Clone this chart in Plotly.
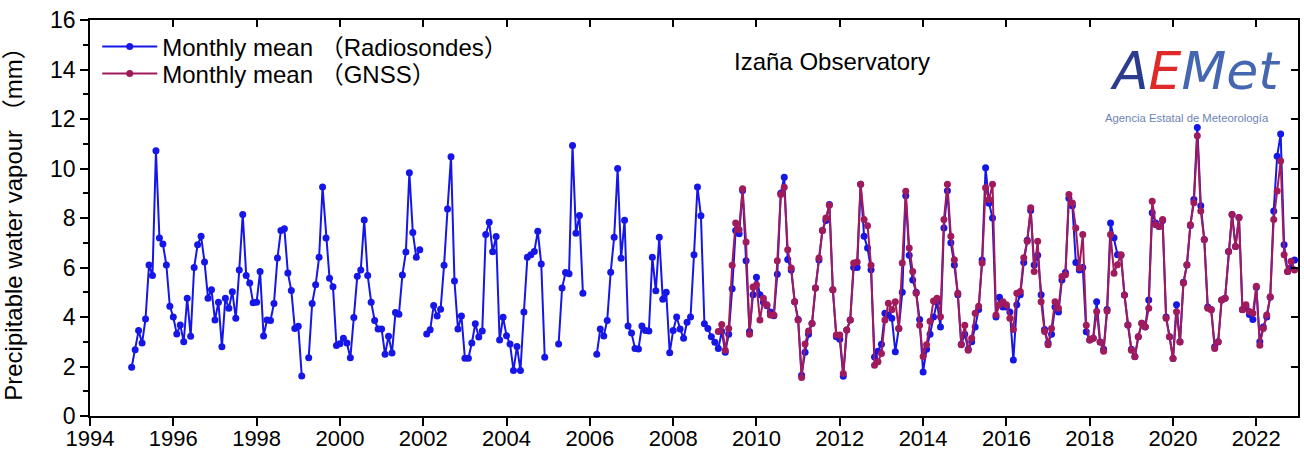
import plotly.graph_objects as go

# ---------------- data (monthly means, mm) ----------------
rs_start_year = 1995  # radiosondes, first value = Jan 1995
radiosondes = [
    1.97, 2.68, 3.45, 2.95, 3.92, 6.10, 5.68, 10.72, 7.19, 6.95, 6.10, 4.43,   # 1995
    4.00, 3.31, 3.68, 3.00, 4.76, 3.22, 6.00, 6.92, 7.26, 6.22, 4.76, 5.10,    # 1996
    3.88, 4.60, 2.80, 4.76, 4.35, 5.02, 3.95, 5.90, 8.14, 5.68, 5.37, 4.58,    # 1997
    4.60, 5.84, 3.23, 3.88, 3.86, 4.55, 6.38, 7.50, 7.57, 5.78, 5.07, 3.54,    # 1998
    3.63, 1.62, None, 2.35, 4.55, 5.30, 6.41, 9.25, 7.19, 5.57, 5.22, 2.85,    # 1999
    2.92, 3.14, 2.95, 2.35, 3.98, 5.65, 5.90, 7.92, 5.68, 4.60, 3.86, 3.52,    # 2000
    3.52, 2.49, 3.22, 2.55, 4.18, 4.11, 5.70, 6.63, 9.83, 7.41, 6.41, 6.72,    # 2001
    None, 3.31, 3.48, 4.46, 4.04, 4.31, 6.09, 8.36, 10.47, 5.45, 3.52, 4.04,   # 2002
    2.33, 2.33, 2.95, 3.73, 3.19, 3.43, 7.33, 7.83, 6.64, 7.25, 3.07, 3.99,    # 2003
    3.24, 2.91, 1.84, 2.81, 1.84, 4.20, 6.41, 6.52, 6.65, 7.46, 6.14, 2.37,    # 2004
    None, None, None, 2.91, 5.17, 5.80, 5.75, 10.93, 7.38, 8.10, 4.96, None,   # 2005
    None, None, 2.49, 3.52, 3.23, 3.86, 5.81, 7.22, 10.00, 6.37, 7.91, 3.64,   # 2006
    3.35, 2.73, 2.71, 3.64, 3.45, 3.43, 6.41, 5.06, 7.22, 4.72, 5.00, 2.56,    # 2007
    3.45, 4.00, 3.52, 3.14, 3.79, 4.00, 6.52, 9.25, 8.09, 3.73, 3.54, 3.20,    # 2008
    2.98, 2.73, 3.41, 2.58, 3.30, 5.14, 7.49, 7.36, 9.11, 6.27, 3.41, 4.90,    # 2009
    5.61, 4.90, 4.60, 4.45, 4.20, 4.05, 5.73, 9.00, 9.65, 6.32, 5.90, 4.62,    # 2010
    3.90, 1.65, 2.58, 3.30, 3.74, 5.17, 6.30, 7.50, 7.90, 8.55, 5.10, 3.20,    # 2011
    3.10, 1.61, 3.47, 3.88, 6.00, 6.00, 9.36, 7.26, 6.79, 5.91, 2.38, 2.62,    # 2012
    2.90, 4.15, 4.08, 3.95, 2.60, 3.54, 5.00, 8.90, 6.50, 5.50, 5.00, 3.90,    # 2013
    1.78, 2.70, 3.30, 4.00, 4.60, 3.60, 7.60, 9.10, 7.00, 6.10, 4.90, 2.90,    # 2014
    3.30, 2.70, 3.00, 3.60, 4.30, 6.30, 10.03, 8.60, 8.00, 4.00, 4.80, 4.40,   # 2015
    4.40, 4.20, 2.26, 4.50, 4.90, 6.20, 7.10, 8.30, 6.10, 6.50, 4.90, 3.50,    # 2016
    2.95, 3.30, 4.40, 4.20, 5.50, 5.80, 8.80, 8.50, 6.20, 5.90, 6.00, 3.40,    # 2017
    3.07, 3.14, 4.62, 2.99, 2.70, 4.30, 7.80, 7.20, 6.52, 6.50, 4.89, 3.68,    # 2018
    2.70, 2.40, 3.20, 3.75, 3.60, 4.69, 8.21, 7.80, 7.66, 7.90, 4.00, 3.20,    # 2019
    2.32, 4.50, 3.00, 5.40, 6.10, 7.70, 8.75, 11.66, 8.50, 7.13, 4.40, 4.30,   # 2020
    2.80, 3.00, 4.69, 4.76, 6.65, 8.14, 6.85, 8.02, 4.30, 4.40, 4.10, 3.90,    # 2021
    5.20, 3.00, 3.60, 4.00, 4.80, 8.28, 10.50, 11.39, 6.92, 5.84, 6.00, 6.30,  # 2022
]

gnss_start_year = 2009  # GNSS, first value = Jan 2009
gnss = [
    None, 3.41, 3.70, 2.66, 3.54, 6.09, 7.80, 7.53, 9.18, 7.03, 3.30, 5.21,   # 2009
    5.30, 3.88, 4.76, 4.49, 4.08, 4.08, 6.27, 8.95, 9.24, 6.72, 5.98, 4.62,   # 2010
    3.88, 1.56, 2.91, 3.43, 3.74, 5.17, 6.38, 7.49, 8.00, 8.52, 5.10, 3.27,   # 2011
    3.27, 1.72, 3.47, 3.88, 6.18, 6.22, 9.36, 7.94, 7.69, 6.09, 2.05, 2.19,   # 2012
    2.53, 3.88, 4.56, 4.29, 4.62, 3.54, 6.18, 9.08, 6.79, 5.84, 4.96, 3.67,   # 2013
    2.40, 2.88, 3.83, 4.65, 4.76, 4.01, 7.94, 9.36, 7.26, 6.31, 4.96, 2.88,   # 2014
    3.67, 2.66, 3.14, 4.15, 4.43, 6.18, 9.22, 8.75, 9.36, 4.08, 4.49, 4.62,   # 2015
    4.49, 3.95, 3.50, 4.96, 5.03, 6.39, 7.06, 8.41, 5.84, 7.06, 4.62, 3.41,   # 2016
    2.88, 3.54, 4.62, 4.35, 5.64, 5.71, 8.95, 8.61, 7.60, 5.98, 7.33, 3.67,   # 2017
    3.07, 3.14, 4.22, 2.99, 2.62, 4.24, 7.33, 5.77, 6.11, 6.52, 4.89, 3.68,   # 2018
    2.66, 2.39, 3.20, 3.75, 3.61, 4.35, 8.68, 7.73, 7.66, 7.94, 3.95, 3.20,   # 2019
    2.32, 4.21, 2.99, 5.37, 6.11, 7.73, 8.62, 11.32, 8.28, 7.13, 4.35, 4.29,  # 2020
    2.73, 2.99, 4.69, 4.76, 6.65, 8.14, 6.85, 8.02, 4.29, 4.49, 4.22, 4.15,   # 2021
    5.24, 2.86, 3.54, 4.08, 4.82, 7.94, 9.09, 10.30, 6.52, 5.84, 6.25, 5.90,  # 2022
]

x_ticks = list(range(1994, 2023, 2))
y_ticks = list(range(0, 17, 2))
x_range = [1994, 2023]
y_range = [0, 16]

label_rs = "Monthly mean （Radiosondes）"
label_gnss = "Monthly mean （GNSS）"
y_title = "Precipitable water vapour （mm）"
station = "Izaña Observatory"
logo_sub = "Agencia Estatal de Meteorología"

# ---------------- styling ----------------
BLUE = "#1616E8"
PURPLE = "#A01A5C"
FONT = "Liberation Sans, Arial, Noto Sans CJK SC, sans-serif"
NARROW = "Liberation Sans Narrow, Arial Narrow, Liberation Sans, sans-serif"


def month_positions(start, n):
    return [start + i / 12 for i in range(n)]


fig = go.Figure()
fig.add_trace(go.Scatter(
    x=month_positions(rs_start_year, len(radiosondes)), y=radiosondes,
    mode="lines+markers", name=label_rs, legend="legend",
    line=dict(color=BLUE, width=2), marker=dict(color=BLUE, size=7),
    xaxis="x", yaxis="y",
))
fig.add_trace(go.Scatter(
    x=month_positions(gnss_start_year, len(gnss)), y=gnss,
    mode="lines+markers", name=label_gnss, legend="legend2",
    line=dict(color=PURPLE, width=2), marker=dict(color=PURPLE, size=7),
    xaxis="x2", yaxis="y2",
))

axis_common = dict(showgrid=False, zeroline=False, showline=True,
                   linecolor="black", linewidth=1.6, tickcolor="black",
                   tickwidth=1.5, automargin=False)

legend_common = dict(xanchor="left", yanchor="middle", bgcolor="rgba(0,0,0,0)",
                     font=dict(size=24, family=FONT, color="black"),
                     itemwidth=55)

fig.update_layout(
    width=1304, height=450,
    margin=dict(l=90, r=6, t=20, b=34),
    paper_bgcolor="white", plot_bgcolor="white",
    font=dict(family=FONT, color="black"),
    showlegend=True,
    legend=dict(x=0.006, y=0.932, **legend_common),
    legend2=dict(x=0.006, y=0.864, **legend_common),
    xaxis=dict(range=x_range, tickmode="array", tickvals=x_ticks,
               ticks="outside", ticklen=8, ticklabelstandoff=-6,
               tickfont=dict(size=22, family=NARROW),
               **axis_common),
    xaxis2=dict(range=x_range, overlaying="x", side="top", anchor="y",
                tickmode="array", tickvals=x_ticks, ticks="inside", ticklen=7,
                showticklabels=False, **axis_common),
    yaxis=dict(range=y_range, tickmode="array", tickvals=y_ticks,
               ticks="outside", ticklen=8,
               minor=dict(ticks="outside", dtick=1, ticklen=5, tickcolor="black", tickwidth=1.5),
               tickfont=dict(size=23, family=NARROW),
               title=dict(text=y_title, font=dict(size=24, family=FONT), standoff=22),
               **axis_common),
    yaxis2=dict(range=y_range, overlaying="y", side="right", anchor="x",
                tickmode="array", tickvals=y_ticks, ticks="inside", ticklen=7,
                showticklabels=False, **axis_common),
    annotations=[
        dict(text=station, xref="paper", yref="paper", x=0.614, y=0.894,
             xanchor="center", yanchor="middle", showarrow=False,
             font=dict(size=24, family=FONT, color="black")),
        dict(text="<i><span style='color:#2B3C8E'>A</span>"
                  "<span style='color:#E02A2A'>E</span>"
                  "<span style='color:#4566B0'>Met</span></i>",
             xref="paper", yref="paper", x=0.915, y=0.872,
             xanchor="center", yanchor="middle", showarrow=False,
             font=dict(size=52, family="DejaVu Sans")),
        dict(text=logo_sub, xref="paper", yref="paper",
             x=0.908, y=0.752, xanchor="center", yanchor="middle",
             showarrow=False,
             font=dict(size=11.3, family=FONT, color="#6D83B8")),
    ],
)

fig.write_html("out.html", config={"displayModeBar": False},
               post_script="document.body.style.margin='0';")
